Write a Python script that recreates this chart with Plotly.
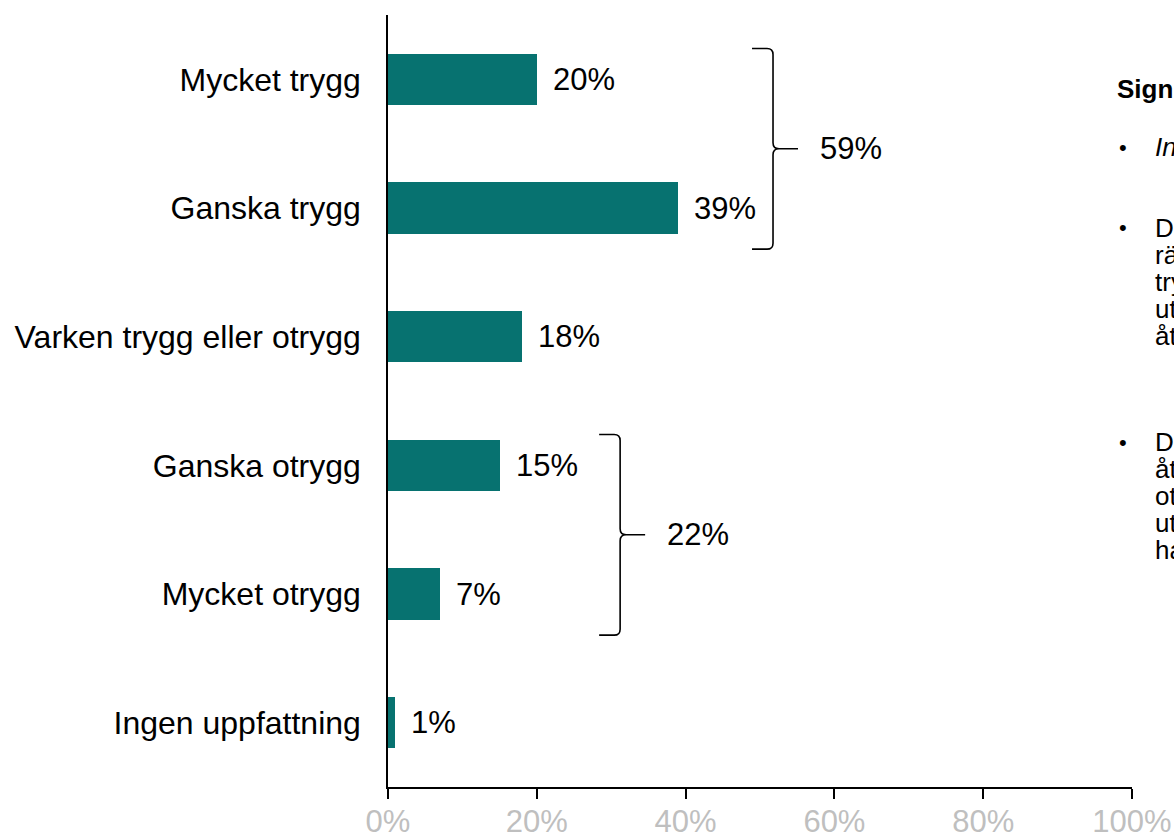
import plotly.graph_objects as go

categories = ["Mycket trygg", "Ganska trygg", "Varken trygg eller otrygg",
              "Ganska otrygg", "Mycket otrygg", "Ingen uppfattning"]
values = [20, 39, 18, 15, 7, 1]
x_ticks = [0, 20, 40, 60, 80, 100]
x_tick_labels = ["0%", "20%", "40%", "60%", "80%", "100%"]

# bracket groups: first row index, last row index, total label
group_first = [0, 3]
group_last = [1, 4]
group_totals = ["59%", "22%"]
bracket_x = [51.75, 31.2]   # position of the brace stem (in % units)

side_title = "Signifikanta skillnader"
side_bullets = [
    ["<i>Inga signifikanta skillnader mellan grupperna</i>"],
    ["Det är vanligare att", "räkna sig som mycket", "trygg bland de som", "utnyttjat tjänsten", "åtminstone en gång"],
    ["De som inte har", "åtnjutit tjänsten är", "otrygga i högre grad", "utifrån de som", "har erfarenhet"],
]

FONT = "Liberation Sans, Arial, sans-serif"
BAR_COLOR = "#077270"

W, H = 1174, 838
ML, MR, MT, MB = 388, 42, 15, 51
plot_w = W - ML - MR
plot_h = H - MT - MB
px_per_pct = plot_w / 100.0
px_per_row = plot_h / len(categories)

fig = go.Figure()
ypos = list(range(len(categories)))
fig.add_trace(go.Bar(
    x=values, y=ypos, orientation="h", width=0.4,
    marker=dict(color=BAR_COLOR, line=dict(width=0)),
    hoverinfo="skip", showlegend=False,
))

annotations = []
for v, y in zip(values, ypos):
    annotations.append(dict(
        x=v, y=y, xref="x", yref="y", text=f"{v}%", showarrow=False,
        xanchor="left", yanchor="middle", xshift=14,
        font=dict(family=FONT, size=31, color="#000000"),
    ))

shapes = []
rx = 6 / px_per_pct
ry = 6 / px_per_row
serif = 21 / px_per_pct
tip = 25 / px_per_pct
for f, l, tot, xv in zip(group_first, group_last, group_totals, bracket_x):
    yt = f - 0.24
    yb = l + 0.32
    ym = (yt + yb) / 2
    x0 = xv - serif
    path = (
        f"M {x0},{yt} L {xv - rx},{yt} Q {xv},{yt} {xv},{yt + ry} "
        f"L {xv},{ym - ry} Q {xv},{ym} {xv + rx},{ym} "
        f"Q {xv},{ym} {xv},{ym + ry} "
        f"L {xv},{yb - ry} Q {xv},{yb} {xv - rx},{yb} L {x0},{yb} "
        f"M {xv + rx},{ym} L {xv + tip},{ym}"
    )
    shapes.append(dict(type="path", path=path, xref="x", yref="y",
                       line=dict(color="#000000", width=1.6)))
    annotations.append(dict(
        x=xv + tip, y=ym, xref="x", yref="y", text=tot, showarrow=False,
        xanchor="left", yanchor="middle", xshift=20,
        font=dict(family=FONT, size=31, color="#000000"),
    ))

def px_x(px):
    return (px - ML) / plot_w

def px_y(py):
    return (H - MB - py) / plot_h

side_font = dict(family=FONT, size=26, color="#000000")
annotations.append(dict(
    x=px_x(1115), y=px_y(89), xref="paper", yref="paper",
    text=f"<b>{side_title}</b>", showarrow=False, xanchor="left",
    yanchor="middle", font=side_font,
))
line_gap = 27
starts = [147, 228, 442]
for lines, start in zip(side_bullets, starts):
    annotations.append(dict(
        x=px_x(1117), y=px_y(start), xref="paper", yref="paper",
        text="•", showarrow=False, xanchor="left", yanchor="middle",
        font=dict(family=FONT, size=22, color="#000000"),
    ))
    for i, t in enumerate(lines):
        annotations.append(dict(
            x=px_x(1153), y=px_y(start + i * line_gap), xref="paper", yref="paper",
            text=t, showarrow=False, xanchor="left", yanchor="middle",
            font=side_font,
        ))

fig.update_layout(
    width=W, height=H,
    margin=dict(l=ML, r=MR, t=MT, b=MB, pad=0, autoexpand=False),
    paper_bgcolor="white", plot_bgcolor="white",
    bargap=0,
    shapes=shapes, annotations=annotations,
    font=dict(family=FONT),
    xaxis=dict(
        range=[0, 100], tickvals=x_ticks, ticktext=x_tick_labels,
        showgrid=False, zeroline=False, showline=True, linecolor="#000000",
        linewidth=1.5, ticks="outside", ticklen=10, tickwidth=1.5,
        tickcolor="#000000", automargin=False, ticklabelstandoff=-4,
        tickfont=dict(family=FONT, size=31, color="#BFBFBF"),
        fixedrange=True,
    ),
    yaxis=dict(
        range=[len(categories) - 0.5, -0.5], tickvals=ypos, ticktext=categories,
        showgrid=False, zeroline=False, showline=True, linecolor="#000000",
        linewidth=1.5, ticks="", ticklabelstandoff=19, automargin=False,
        tickfont=dict(family=FONT, size=32, color="#000000"),
        fixedrange=True,
    ),
)

fig.write_html(
    "out.html",
    config={"displayModeBar": False},
    post_script="document.body.style.margin='0';document.body.style.overflow='hidden';",
)
